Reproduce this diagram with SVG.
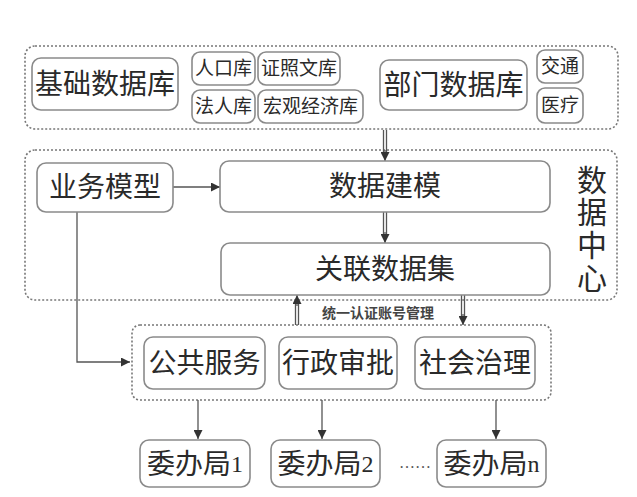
<svg xmlns="http://www.w3.org/2000/svg" width="637" height="497" viewBox="0 0 637 497">
<style>
text{font-family:"Liberation Serif","Noto Sans CJK SC",serif;fill:#2a2a2a;text-anchor:middle;dominant-baseline:central}
.box{fill:#fff;stroke:#8a8a8a;stroke-width:1.6}
.cont{fill:none;stroke:#777;stroke-width:1.6;stroke-dasharray:2 2}
.ln{fill:none;stroke:#555;stroke-width:1.3}
.big{font-size:28px}
.sm{font-size:19px}
</style>
<defs>
<marker id="ah" viewBox="0 0 10 10" refX="10" refY="5" markerWidth="9" markerHeight="9" markerUnits="userSpaceOnUse" orient="auto">
<path d="M0,0 L10,5 L0,10 z" fill="#333"/>
</marker>
</defs>
<rect width="637" height="497" fill="#fff"/>

<g id="containers">
<rect id="top-container" class="cont" x="25" y="46" width="593" height="83" rx="10"/>
<rect id="datacenter-container" class="cont" x="25" y="150" width="592" height="150" rx="10"/>
<rect id="service-container" class="cont" x="132" y="325" width="419" height="75" rx="8"/>
</g>

<g id="connectors">
<line class="ln" x1="383.5" y1="130" x2="383.5" y2="152"/>
<line class="ln" x1="386.5" y1="130" x2="386.5" y2="152"/>
<line class="ln" x1="385" y1="150" x2="385" y2="161" marker-end="url(#ah)"/>
<line class="ln" x1="383.5" y1="212" x2="383.5" y2="234"/>
<line class="ln" x1="386.5" y1="212" x2="386.5" y2="234"/>
<line class="ln" x1="385" y1="232" x2="385" y2="243" marker-end="url(#ah)"/>
<line class="ln" x1="173" y1="187" x2="220" y2="187" marker-end="url(#ah)"/>
<polyline class="ln" points="77,212 77,362 130,362" marker-end="url(#ah)"/>
<line class="ln" x1="295.5" y1="325" x2="295.5" y2="304"/>
<line class="ln" x1="298.5" y1="325" x2="298.5" y2="304"/>
<line class="ln" x1="297" y1="306" x2="297" y2="295" marker-end="url(#ah)"/>
<line class="ln" x1="461.5" y1="295" x2="461.5" y2="316"/>
<line class="ln" x1="464.5" y1="295" x2="464.5" y2="316"/>
<line class="ln" x1="463" y1="314" x2="463" y2="325" marker-end="url(#ah)"/>
<line class="ln" x1="198" y1="400" x2="198" y2="439" marker-end="url(#ah)"/>
<line class="ln" x1="322" y1="400" x2="322" y2="439" marker-end="url(#ah)"/>
<line class="ln" x1="496" y1="400" x2="496" y2="439" marker-end="url(#ah)"/>
<text x="378" y="313" style="font-size:14px;font-weight:bold;fill:#444">统一认证账号管理</text>
</g>

<g id="jichu"><rect class="box" x="32" y="58" width="146" height="52" rx="9"/><text class="big" x="105" y="84">基础数据库</text></g>
<g id="renkou"><rect class="box" x="192" y="52" width="63" height="33" rx="8"/><text class="sm" x="223.5" y="68.5">人口库</text></g>
<g id="zhengzhao"><rect class="box" x="258" y="52" width="82" height="33" rx="8"/><text class="sm" x="299" y="68.5">证照文库</text></g>
<g id="faren"><rect class="box" x="192" y="90" width="63" height="33" rx="8"/><text class="sm" x="223.5" y="106.5">法人库</text></g>
<g id="hongguan"><rect class="box" x="258" y="90" width="105" height="33" rx="8"/><text class="sm" x="310.5" y="106.5">宏观经济库</text></g>
<g id="bumen"><rect class="box" x="380" y="60" width="147" height="50" rx="9"/><text class="big" x="453.5" y="85">部门数据库</text></g>
<g id="jiaotong"><rect class="box" x="537" y="50" width="46" height="33" rx="8"/><text class="sm" x="560" y="66.5">交通</text></g>
<g id="yiliao"><rect class="box" x="537" y="88" width="46" height="35" rx="8"/><text class="sm" x="560" y="105.5">医疗</text></g>

<g id="yewu"><rect class="box" x="37" y="163" width="136" height="49" rx="9"/><text class="big" x="105" y="187.5">业务模型</text></g>
<g id="jianmo"><rect class="box" x="220" y="161" width="330" height="51" rx="9"/><text class="big" x="385" y="186.5">数据建模</text></g>
<g id="guanlian"><rect class="box" x="221" y="243" width="329" height="52" rx="9"/><text class="big" x="385" y="269">关联数据集</text></g>
<g id="shujuzhongxin">
<text style="font-size:30px" x="592" y="180">数</text>
<text style="font-size:30px" x="592" y="212">据</text>
<text style="font-size:30px" x="592" y="245">中</text>
<text style="font-size:30px" x="592" y="278">心</text>
</g>

<g id="gonggong"><rect class="box" x="144" y="337" width="121" height="52" rx="9"/><text class="big" x="204.5" y="363">公共服务</text></g>
<g id="xingzheng"><rect class="box" x="279" y="337" width="118" height="52" rx="9"/><text class="big" x="338" y="363">行政审批</text></g>
<g id="shehui"><rect class="box" x="415" y="337" width="120" height="52" rx="9"/><text class="big" x="475" y="363">社会治理</text></g>

<g id="wbj1"><rect class="box" x="140" y="440" width="110" height="47" rx="9"/><text class="big" x="195" y="464">委办局<tspan style="font-size:24px">1</tspan></text></g>
<g id="wbj2"><rect class="box" x="271" y="440" width="109" height="47" rx="9"/><text class="big" x="325.5" y="464">委办局<tspan style="font-size:24px">2</tspan></text></g>
<g id="ellipsis"><text x="415" y="462" style="font-size:16px;fill:#555">……</text></g>
<g id="wbjn"><rect class="box" x="437" y="440" width="109" height="47" rx="9"/><text class="big" x="491.5" y="464">委办局<tspan style="font-size:24px">n</tspan></text></g>
</svg>
